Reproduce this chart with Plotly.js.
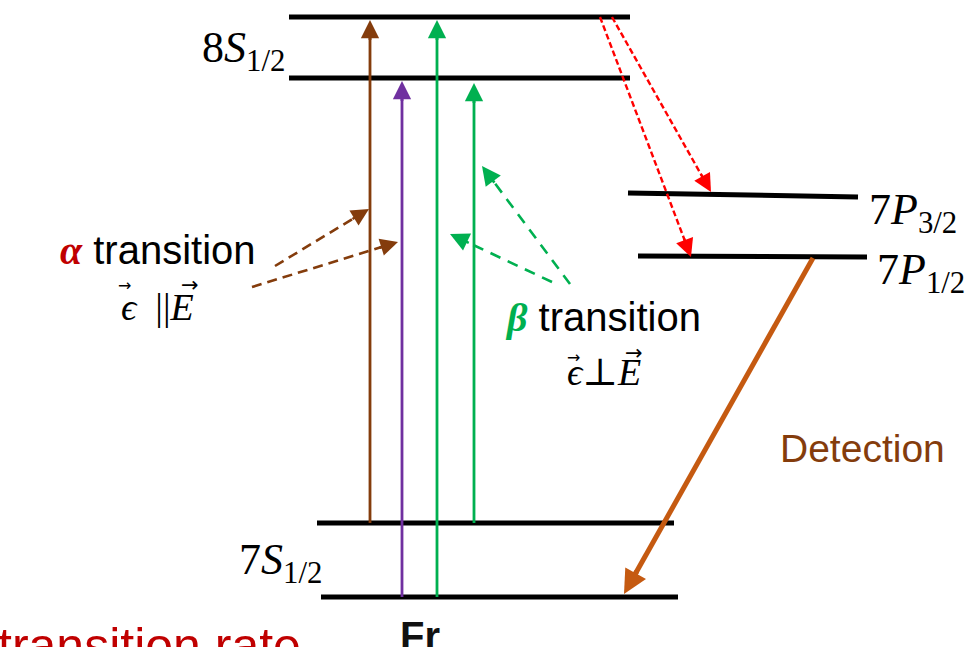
<!DOCTYPE html>
<html>
<head>
<meta charset="utf-8">
<script src="https://cdn.plot.ly/plotly-3.0.1.min.js"></script>
<style>html,body{margin:0;padding:0;background:#fff;}#chart{width:980px;height:647px;}</style>
</head>
<body>
<div id="chart"></div>
<script>
// ---- Energy levels (diagram coordinates) ----
const levelNames = ['8S1/2 (F upper)', '8S1/2 (F lower)', '7P3/2', '7P1/2', '7S1/2 (F upper)', '7S1/2 (F lower)'];
const levelX0 = [289, 289, 628, 638, 317, 321];
const levelX1 = [630, 630, 858, 867, 674, 678];
const levelY0 = [17, 78, 193, 256, 523, 597];
const levelY1 = [17, 78, 197, 257, 523, 597];

// ---- Transitions (start -> tip) ----
const transNames = ['α excitation', 'α excitation', 'β excitation', 'β excitation', 'decay to 7P1/2', 'decay to 7P3/2', 'detection'];
const transX0 = [370, 402, 437, 474, 600, 612, 813];
const transY0 = [523, 597, 597, 523, 17, 17, 258];
const transX1 = [370, 402, 437, 474, 691, 711, 624];
const transY1 = [20, 81, 20, 83, 257, 192, 594];
const transColors = ['#843C0C', '#7030A0', '#00B050', '#00B050', '#FF0000', '#FF0000', '#C55A11'];

// ---- Pointer arrows from labels ----
const pointerNames = ['α', 'α', 'β', 'β'];
const pointerX0 = [275, 252, 570, 552];
const pointerY0 = [266, 287, 284, 282];
const pointerX1 = [369, 398, 482, 450];
const pointerY1 = [209, 242, 166, 234];
const pointerColors = ['#843C0C', '#843C0C', '#00B050', '#00B050'];

const traces = [];
const heads = [];
function arrow(name, x0, y0, x1, y1, color, width, dash, headScale) {
  const dx = x1 - x0, dy = y1 - y0, len = Math.hypot(dx, dy);
  const ux = dx / len, uy = dy / len;
  const headLen = 5 * width * headScale;
  traces.push({
    type: 'scatter', mode: 'lines', name: name,
    x: [x0, x1 - ux * headLen * 0.6], y: [y0, y1 - uy * headLen * 0.6],
    line: {color: color, width: width, dash: dash},
    hoverinfo: 'skip', showlegend: false
  });
  heads.push({
    xref: 'x', yref: 'y', axref: 'x', ayref: 'y',
    x: x1, y: y1, ax: x1 - ux * headLen * 1.1, ay: y1 - uy * headLen * 1.1,
    text: '', font: {size: 1}, borderpad: 0, borderwidth: 0,
    showarrow: true, arrowhead: 2, arrowsize: headScale,
    arrowwidth: width, arrowcolor: color, standoff: 0, startstandoff: 0
  });
}

for (let i = 0; i < levelNames.length; i++) {
  traces.push({
    type: 'scatter', mode: 'lines', name: levelNames[i],
    x: [levelX0[i], levelX1[i]], y: [levelY0[i], levelY1[i]],
    line: {color: '#000', width: 5}, hoverinfo: 'skip', showlegend: false
  });
}
const transWidth = [2.8, 2.8, 2.8, 2.8, 2.4, 2.4, 5];
const transDash = ['solid', 'solid', 'solid', 'solid', '6px,3px', '6px,3px', 'solid'];
const transHeadScale = [1.3, 1.3, 1.3, 1.3, 1.5, 1.5, 0.95];
for (let i = 0; i < transNames.length; i++) {
  arrow(transNames[i], transX0[i], transY0[i], transX1[i], transY1[i], transColors[i], transWidth[i], transDash[i], transHeadScale[i]);
}
const pointerDash = ['10px,6px', '10px,6px', '11px,8px', '11px,8px'];
const pointerHeadScale = [1.35, 1.35, 1.45, 1.45];
for (let i = 0; i < pointerNames.length; i++) {
  arrow(pointerNames[i], pointerX0[i], pointerY0[i], pointerX1[i], pointerY1[i], pointerColors[i], 2.6, pointerDash[i], pointerHeadScale[i]);
}

const serif = 'Liberation Serif, DejaVu Serif, serif';
const sans = 'Liberation Sans, Arial, sans-serif';
const ann = (x, y, text, opts) => Object.assign({xref: 'x', yref: 'y', x: x, y: y, text: text, showarrow: false}, opts);
const vec = (x, y, w) => ann(x, y, '→', {xanchor: 'center', yanchor: 'middle', font: {family: 'DejaVu Sans', size: w, color: '#000'}});

const annotations = heads.concat([
  ann(287, 50, '8<i>S</i><sub>1/2</sub>', {xanchor: 'right', yanchor: 'middle', font: {family: serif, size: 44, color: '#000'}}),
  ann(867, 212, '7<i>P</i><sub>3/2</sub>', {xanchor: 'left', yanchor: 'middle', font: {family: serif, size: 44, color: '#000'}}),
  ann(875, 272, '7<i>P</i><sub>1/2</sub>', {xanchor: 'left', yanchor: 'middle', font: {family: serif, size: 44, color: '#000'}}),
  ann(324, 562, '7<i>S</i><sub>1/2</sub>', {xanchor: 'right', yanchor: 'middle', font: {family: serif, size: 44, color: '#000'}}),
  ann(158, 250, '<span style="font-family:Liberation Serif;color:#C00000"><b><i>α</i></b></span> transition', {xanchor: 'center', yanchor: 'middle', font: {family: sans, size: 40, color: '#000'}}),
  ann(157, 307, '<i>ϵ</i>  ||<i>E</i>', {xanchor: 'center', yanchor: 'middle', font: {family: serif, size: 38, color: '#000'}}),
  vec(124, 285, 16), vec(190, 285, 21),
  ann(603, 317, '<span style="font-family:Liberation Serif;color:#00B050"><b><i>β</i></b></span> transition', {xanchor: 'center', yanchor: 'middle', font: {family: sans, size: 40, color: '#000'}}),
  ann(604, 372, '<i>ϵ</i>⊥<i>E</i>', {xanchor: 'center', yanchor: 'middle', font: {family: serif, size: 38, color: '#000'}}),
  vec(573, 357, 16), vec(634, 353, 21),
  ann(862, 448, 'Detection', {xanchor: 'center', yanchor: 'middle', font: {family: sans, size: 39, color: '#843C0C'}}),
  ann(420, 612, '<b>Fr</b>', {xanchor: 'center', yanchor: 'top', font: {family: sans, size: 40, color: '#111'}}),
  {xref: 'paper', yref: 'y', x: -0.004, y: 616, text: 'transition rate', showarrow: false, xanchor: 'left', yanchor: 'top', font: {family: sans, size: 50, color: '#C00000'}}
]);

const layout = {
  width: 980, height: 647,
  margin: {l: 0, r: 0, t: 0, b: 0, pad: 0},
  paper_bgcolor: '#fff', plot_bgcolor: '#fff',
  xaxis: {range: [0, 980], visible: false, fixedrange: true},
  yaxis: {range: [647, 0], visible: false, fixedrange: true},
  showlegend: false,
  annotations: annotations
};
Plotly.newPlot('chart', traces, layout, {staticPlot: true, displayModeBar: false});
</script>
</body>
</html>
